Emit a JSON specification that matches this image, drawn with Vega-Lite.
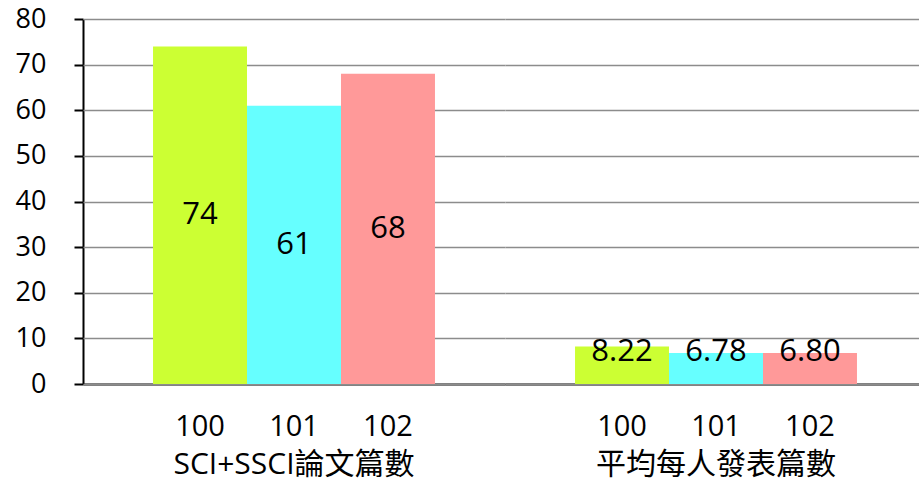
{
  "$schema": "https://vega.github.io/schema/vega-lite/v6.json",
  "padding": {"left": 15, "top": 5, "right": 0, "bottom": 0},
  "background": "white",
  "data": {
    "values": [
      {"group": "SCI+SSCI論文篇數", "year": "100", "value": 74, "label": "74"},
      {"group": "SCI+SSCI論文篇數", "year": "101", "value": 61, "label": "61"},
      {"group": "SCI+SSCI論文篇數", "year": "102", "value": 68, "label": "68"},
      {"group": "平均每人發表篇數", "year": "100", "value": 8.22, "label": "8.22"},
      {"group": "平均每人發表篇數", "year": "101", "value": 6.78, "label": "6.78"},
      {"group": "平均每人發表篇數", "year": "102", "value": 6.80, "label": "6.80"}
    ]
  },
  "facet": {
    "column": {
      "field": "group",
      "type": "nominal",
      "sort": ["SCI+SSCI論文篇數", "平均每人發表篇數"],
      "header": {
        "title": null,
        "labelOrient": "bottom",
        "labelFontSize": 30,
        "labelFont": "Open Sans, Noto Sans CJK TC",
        "labelColor": "black",
        "labelPadding": 9,
        "labelLimit": 0
      }
    }
  },
  "spacing": 0,
  "spec": {
    "width": 422,
    "height": 365,
    "layer": [
      {
        "mark": {"type": "bar"},
        "encoding": {
          "x": {
            "field": "year",
            "type": "nominal",
            "scale": {"paddingInner": 0, "paddingOuter": 0.745},
            "axis": {
              "title": null,
              "labelAngle": 0,
              "ticks": false,
              "labelPadding": 28,
              "labelFontSize": 29,
              "domainColor": "black",
              "domainWidth": 2,
              "grid": false
            }
          },
          "y": {
            "field": "value",
            "type": "quantitative",
            "scale": {"domain": [0, 80], "nice": false},
            "axis": {
              "title": null,
              "values": [0, 10, 20, 30, 40, 50, 60, 70, 80],
              "labelFontSize": 27,
              "labelPadding": 28,
              "tickSize": 9,
              "tickWidth": 2,
              "tickColor": "black",
              "domainColor": "black",
              "domainWidth": 2,
              "grid": true,
              "gridColor": "#8c8c8c",
              "gridWidth": 1.3
            }
          },
          "color": {
            "field": "year",
            "type": "nominal",
            "scale": {"domain": ["100", "101", "102"], "range": ["#CCFF33", "#66FFFF", "#FF9999"]},
            "legend": null
          }
        }
      },
      {
        "transform": [{"calculate": "max(datum.value / 2, 7)", "as": "pos"}],
        "mark": {"type": "text", "fontSize": 31, "color": "black", "font": "Open Sans"},
        "encoding": {
          "x": {"field": "year", "type": "nominal"},
          "y": {"field": "pos", "type": "quantitative"},
          "text": {"field": "label"}
        }
      }
    ]
  },
  "config": {
    "view": {"stroke": null},
    "font": "Open Sans",
    "axis": {"labelFont": "Open Sans", "labelColor": "black"}
  }
}
